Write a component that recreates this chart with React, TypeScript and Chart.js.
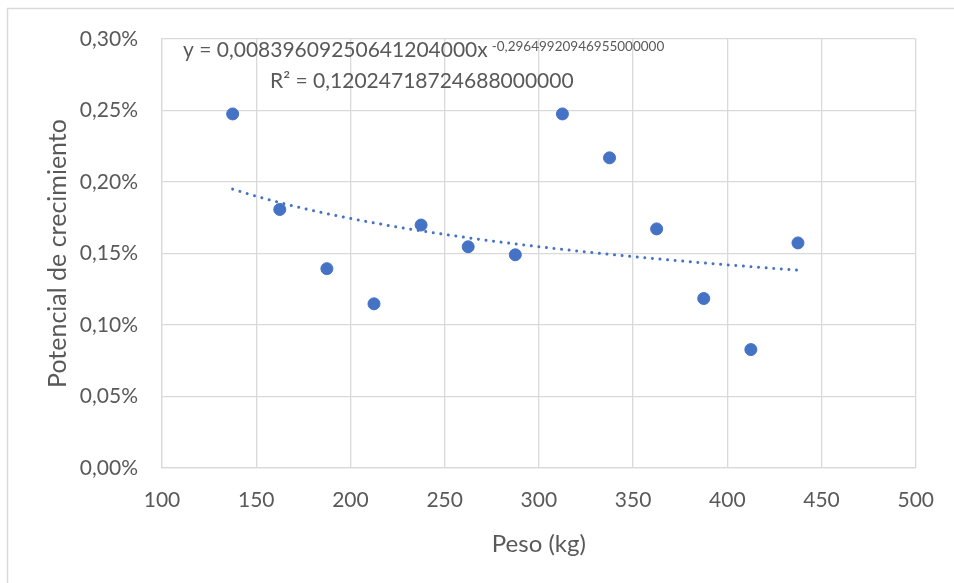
import React, { useEffect, useRef } from "react";
import { Chart, registerables } from "chart.js";

Chart.register(...registerables);

// Data
const pesoKg = [137.5, 162.5, 187.5, 212.5, 237.5, 262.5, 287.5, 312.5, 337.5, 362.5, 387.5, 412.5, 437.5];
const potencial = [0.002476, 0.001808, 0.001394, 0.001148, 0.001699, 0.001547, 0.001491, 0.002476, 0.002169, 0.001672, 0.001185, 0.000828, 0.001574];

// Power trendline shown in the chart: y = A * x^B
const trendA = 0.00839609250641204;
const trendB = -0.29649920946955;
const trendText = "y = 0,00839609250641204000x";
const trendExpText = "-0,29649920946955000000";
const r2Text = "R² = 0,12024718724688000000";

const xTitle = "Peso (kg)";
const yTitle = "Potencial de crecimiento";

const FONT = "Lato, 'Open Sans', sans-serif";
const TEXT = "#595959";
const GRID = "#D9D9D9";
const BLUE = "#4472C4";

function trendPoints() {
  const xs = pesoKg;
  const x0 = xs[0];
  const x1 = xs[xs.length - 1];
  const pts: { x: number; y: number }[] = [];
  const n = 60;
  for (let i = 0; i <= n; i++) {
    const x = x0 + ((x1 - x0) * i) / n;
    pts.push({ x, y: trendA * Math.pow(x, trendB) });
  }
  return pts;
}

const framePlugin = {
  id: "frame",
  beforeDraw(chart: any) {
    const ctx = chart.ctx;
    ctx.save();
    ctx.fillStyle = "#ffffff";
    ctx.fillRect(0, 0, chart.width, chart.height);
    ctx.strokeStyle = GRID;
    ctx.lineWidth = 1.5;
    ctx.strokeRect(7.5, 8.5, chart.width + 20, chart.height + 20);
    ctx.restore();
  },
};

const labelPlugin = {
  id: "trendLabel",
  afterDraw(chart: any) {
    const ctx = chart.ctx;
    ctx.save();
    ctx.fillStyle = TEXT;
    ctx.textBaseline = "alphabetic";
    ctx.textAlign = "left";
    ctx.font = `21px ${FONT}`;
    ctx.fillText(trendText, 183, 57);
    const w = ctx.measureText(trendText).width;
    ctx.font = `13.5px ${FONT}`;
    ctx.fillText(trendExpText, 183 + w + 4, 50.5);
    ctx.font = `21px ${FONT}`;
    ctx.fillText(r2Text, 270, 88);
    ctx.restore();
  },
};

export default function App() {
  const ref = useRef<HTMLCanvasElement>(null);
  useEffect(() => {
    if (!ref.current) return;
    const chart = new Chart(ref.current, {
      type: "scatter",
      data: {
        datasets: [
          {
            label: "Potencial",
            data: pesoKg.map((x, i) => ({ x, y: potencial[i] })),
            backgroundColor: BLUE,
            borderColor: BLUE,
            pointRadius: 6,
            pointBorderWidth: 1,
            order: 0,
          },
          {
            label: "Tendencia",
            data: trendPoints(),
            showLine: true,
            borderColor: BLUE,
            borderWidth: 3,
            borderDash: [0.01, 7.6],
            borderCapStyle: "round",
            pointRadius: 0,
            fill: false,
            order: 1,
          } as any,
        ],
      },
      options: {
        animation: false,
        responsive: false,
        devicePixelRatio: 1,
        layout: { padding: { top: 39, right: 36, left: 0, bottom: 0 } },
        plugins: { legend: { display: false }, tooltip: { enabled: false } },
        scales: {
          x: {
            type: "linear",
            min: 100,
            max: 500,
            ticks: { stepSize: 50, color: TEXT, font: { family: FONT, size: 21 }, padding: 20 },
            grid: { color: GRID, lineWidth: 1.3, drawTicks: false },
            border: { color: GRID, width: 1.3 },
            title: { display: true, text: xTitle, color: TEXT, font: { family: FONT, size: 24 }, padding: { top: 0, bottom: 24 } },
            afterFit(scale: any) {
              scale.height = 115;
            },
          },
          y: {
            type: "linear",
            min: 0,
            max: 0.003,
            ticks: {
              stepSize: 0.0005,
              color: TEXT,
              font: { family: FONT, size: 21 },
              padding: 24,
              callback: (v: any) => (Number(v) * 100).toFixed(2).replace(".", ",") + "%",
            },
            grid: { color: GRID, lineWidth: 1.3, drawTicks: false },
            border: { color: GRID, width: 1.3 },
            title: { display: true, text: yTitle, color: TEXT, font: { family: FONT, size: 25 }, padding: { top: 43, bottom: 0 } },
            afterFit(scale: any) {
              scale.width = 162;
            },
          },
        },
      },
      plugins: [framePlugin, labelPlugin],
    });
    return () => chart.destroy();
  }, []);
  return (
    <div style={{ position: "fixed", left: 0, top: 0, width: 954, height: 583, background: "#fff" }}>
      <canvas ref={ref} width={954} height={583} style={{ width: 954, height: 583, display: "block" }} />
    </div>
  );
}
